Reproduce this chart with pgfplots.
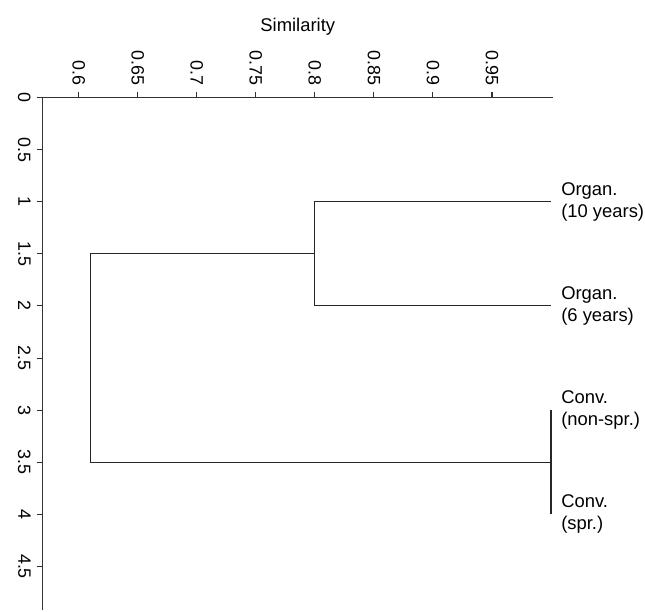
\documentclass[border=0pt]{standalone}
\usepackage{pgfplots}
\pgfplotsset{compat=1.18}
\usepackage{fontspec}
\setmainfont{Liberation Sans}
\begin{document}
\begin{tikzpicture}[font=\fontsize{13.8}{16.5}\selectfont]
\begin{axis}[
  scale only axis, width=382.5pt, height=384.5pt,
  xmin=0.5695, xmax=1.0015, ymin=0, ymax=4.92,
  y dir=reverse,
  axis x line*=top, axis y line*=left,
  axis line style={black!80, line width=0.8pt},
  tick align=outside, major tick length=4.5pt,
  tick style={black!80, line width=0.8pt},
  xtick={0.6,0.65,0.7,0.75,0.8,0.85,0.9,0.95},
  xticklabels={0.6,0.65,0.7,0.75,0.8,0.85,0.9,0.95},
  ytick={0,0.5,1,1.5,2,2.5,3,3.5,4,4.5},
  yticklabels={0,0.5,1,1.5,2,2.5,3,3.5,4,4.5},
  tick label style={font=\fontsize{13.4}{16}\selectfont},
  label style={font=\fontsize{13.8}{16.5}\selectfont},
  xticklabel style={rotate=-90, anchor=east, xshift=-1pt},
  yticklabel style={rotate=-90, anchor=north, yshift=-1pt},
  xlabel={Similarity},
  xlabel style={yshift=5pt},
  clip=false,
]
\addplot[black!85, line width=0.8pt, mark=none] coordinates {(1.0,1) (0.8,1) (0.8,2) (1.0,2)};
\addplot[black!85, line width=0.8pt, mark=none] coordinates {(1.0,3) (1.0,4)};
\addplot[black!85, line width=0.8pt, mark=none] coordinates {(0.8,1.5) (0.61,1.5) (0.61,3.5) (1.0,3.5)};
\node[anchor=west, align=left, inner sep=0pt, xshift=7.5pt, font=\fontsize{13.8}{16.5}\selectfont] at (axis cs:1.0,1) {Organ.\\(10 years)};
\node[anchor=west, align=left, inner sep=0pt, xshift=7.5pt, font=\fontsize{13.8}{16.5}\selectfont] at (axis cs:1.0,2) {Organ.\\(6 years)};
\node[anchor=west, align=left, inner sep=0pt, xshift=7.5pt, font=\fontsize{13.8}{16.5}\selectfont] at (axis cs:1.0,3) {Conv.\\(non-spr.)};
\node[anchor=west, align=left, inner sep=0pt, xshift=7.5pt, font=\fontsize{13.8}{16.5}\selectfont] at (axis cs:1.0,4) {Conv.\\(spr.)};
\path (axis cs:0.5333,-0.936) rectangle (axis cs:1.0796,4.928);
\end{axis}
\end{tikzpicture}
\end{document}
